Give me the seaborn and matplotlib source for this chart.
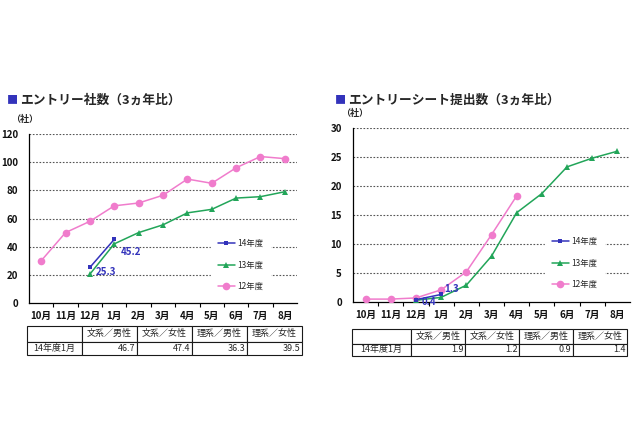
import matplotlib
matplotlib.use("Agg")
import matplotlib.pyplot as plt
from matplotlib.table import Table
from matplotlib.ticker import FixedLocator
import seaborn as sns
import numpy as np
import pandas as pd

months = ["10月", "11月", "12月", "1月", "2月", "3月", "4月", "5月", "6月", "7月", "8月"]
nan = np.nan

# エントリー社数
entry_14 = [nan, nan, 25.3, 45.2, nan, nan, nan, nan, nan, nan, nan]
entry_13 = [nan, nan, 20.5, 42, 50, 55.5, 64, 66.5, 74.5, 75.5, 79]
entry_12 = [30, 50, 58, 69, 71, 76.5, 88, 85, 96, 104, 102.5]

# エントリーシート提出数
sheet_14 = [nan, nan, 0.4, 1.3, nan, nan, nan, nan, nan, nan, nan]
sheet_13 = [nan, nan, 0.3, 0.8, 2.9, 7.9, 15.4, 18.7, 23.3, 24.8, 26]
sheet_12 = [0.5, 0.5, 0.7, 2.1, 5.2, 11.6, 18.3, nan, nan, nan, nan]

series_names = ["14年度", "13年度", "12年度"]
table_cols = ["", "文系／男性", "文系／女性", "理系／男性", "理系／女性"]
entry_row = ["14年度1月", "46.7", "47.4", "36.3", "39.5"]
sheet_row = ["14年度1月", "1.9", "1.2", "0.9", "1.4"]

sns.set_theme(style="white")
plt.rcParams["font.family"] = ["Noto Sans CJK JP", "DejaVu Sans"]

colors = {"14年度": "#3333bb", "13年度": "#22a559", "12年度": "#f07ccc"}
markers = {"14年度": "s", "13年度": "^", "12年度": "o"}
msizes = {"14年度": 3.5, "13年度": 5, "12年度": 5.5}

W, H = 640, 426
fig = plt.figure(figsize=(6.4, 4.26), dpi=100)
fig.patch.set_facecolor("white")


def px_axes(x0, y0, x1, y1):
    return fig.add_axes([x0 / W, 1 - y1 / H, (x1 - x0) / W, (y1 - y0) / H])


def draw_chart(ax, data, ymax, ystep, labels, leg_pos):
    df = pd.DataFrame({"x": np.arange(len(months))})
    for name, vals in zip(series_names, data):
        df[name] = vals
    long = df.melt(id_vars="x", var_name="series", value_name="v").dropna()
    for name in ["12年度", "13年度", "14年度"]:
        sub = long[long["series"] == name]
        sns.lineplot(data=sub, x="x", y="v", ax=ax, color=colors[name],
                     marker=markers[name], markersize=msizes[name],
                     markeredgewidth=0, linewidth=1.1, label=name, zorder=3)
    ax.set_xlim(-0.5, len(months) - 0.5)
    ax.set_ylim(0, ymax)
    ax.set_yticks(np.arange(0, ymax + 1, ystep))
    ax.set_xticks(np.arange(len(months)))
    ax.set_xticklabels(months)
    ax.xaxis.set_minor_locator(FixedLocator(np.arange(0.5, len(months) - 1, 1)))
    ax.tick_params(axis="x", which="major", length=0, pad=6, labelsize=7)
    ax.tick_params(axis="x", which="minor", length=3, width=0.8, color="black",
                   direction="out", bottom=True)
    ax.tick_params(axis="y", length=0, pad=8, labelsize=7)
    for lab in ax.get_xticklabels() + ax.get_yticklabels():
        lab.set_fontweight("bold")
        lab.set_color("#111111")
    for y in np.arange(ystep, ymax + 1, ystep):
        ax.axhline(y, color="#555555", linestyle=(0, (1.5, 1.5)), linewidth=0.8, zorder=1)
    ax.set_xlabel("")
    ax.set_ylabel("")
    for s in ["top", "right"]:
        ax.spines[s].set_visible(False)
    for s in ["left", "bottom"]:
        ax.spines[s].set_color("black")
        ax.spines[s].set_linewidth(0.9)
    handles, labs = ax.get_legend_handles_labels()
    order = [labs.index(n) for n in series_names]
    leg = ax.legend([handles[i] for i in order], [labs[i] for i in order],
                    loc="center", bbox_to_anchor=leg_pos, frameon=True,
                    facecolor="white", edgecolor="white", framealpha=1,
                    fontsize=6, labelspacing=1.5, handlelength=2.0,
                    handletextpad=0.3, borderpad=0.8, fancybox=False)
    leg.set_zorder(2)
    for (x, y, dx, dy, txt) in labels:
        ax.annotate(txt, (x, y), xytext=(dx, dy), textcoords="offset points",
                    color="#3333bb", fontsize=7, fontweight="bold",
                    ha="left", va="center", zorder=5)


def draw_table(x0, y0, x1, y1, first_w, row):
    ax = px_axes(x0, y0, x1, y1)
    ax.axis("off")
    tbl = Table(ax, bbox=[0, 0, 1, 1])
    total = x1 - x0
    widths = [first_w / total] + [(1 - first_w / total) / 4] * 4
    heights = [0.54, 0.46]
    for c in range(5):
        cell = tbl.add_cell(0, c, widths[c], heights[0], text=table_cols[c], loc="center")
        cell.set_linewidth(0.8)
        cell.get_text().set_fontsize(6.5)
        loc = "center" if c == 0 else "right"
        cell = tbl.add_cell(1, c, widths[c], heights[1], text=row[c], loc=loc)
        cell.set_linewidth(0.8)
        cell.PAD = 0.03
        cell.get_text().set_fontsize(6.5)
    tbl.auto_set_font_size(False)
    ax.add_table(tbl)


# left chart
ax1 = px_axes(29, 134, 297, 303)
draw_chart(ax1, [entry_14, entry_13, entry_12], 120, 20,
           [(2, 25.3, 4, -3, "25.3"), (3, 45.2, 5, -9, "45.2")], (0.79, 0.225))
fig.text(7 / W, 1 - 100 / H, "■", color="#3333bb", fontsize=8, va="center")
fig.text(20 / W, 1 - 100 / H, "エントリー社数（3ヵ年比）", fontsize=9.2,
         fontweight="bold", va="center")
fig.text(11 / W, 1 - 119 / H, "（社）", fontsize=6.5, fontweight="bold", va="center")
draw_table(27, 326, 302, 355, 55, entry_row)

# right chart
ax2 = px_axes(353, 128, 630, 302)
draw_chart(ax2, [sheet_14, sheet_13, sheet_12], 30, 5,
           [(2, 0.4, 4, -2, "0.4"), (3, 1.3, 2, 4, "1.3")], (0.80, 0.224))
fig.text(335 / W, 1 - 100 / H, "■", color="#3333bb", fontsize=8, va="center")
fig.text(348 / W, 1 - 100 / H, "エントリーシート提出数（3ヵ年比）", fontsize=9.2,
         fontweight="bold", va="center")
fig.text(341 / W, 1 - 113 / H, "（社）", fontsize=6.5, fontweight="bold", va="center")
draw_table(352, 329, 627, 356, 59, sheet_row)

fig.savefig("out.png", dpi=100, facecolor="white")
plt.close(fig)
